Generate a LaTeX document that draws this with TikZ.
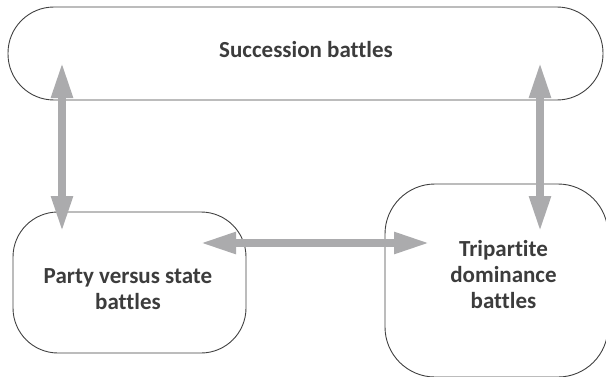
\documentclass[tikz,border=0pt]{standalone}
\usepackage{fontspec}
\setmainfont[Ligatures={NoCommon}]{Carlito}
\usetikzlibrary{arrows.meta}
\definecolor{boxline}{HTML}{404040}
\definecolor{txt}{HTML}{3C3C3C}
\definecolor{arr}{HTML}{ABABAD}
\tikzset{
  box/.style={draw=boxline, line width=0.9pt, rectangle, inner sep=0pt},
  lbl/.style={font=\fontsize{23}{26}\selectfont\bfseries, text=txt, align=center, inner sep=0pt},
  dbl/.style={draw=arr, line width=8pt, {Triangle[length=36pt,width=20pt]}-{Triangle[length=36pt,width=20pt]}}
}
\begin{document}
\begin{tikzpicture}[x=1pt,y=1pt]
\useasboundingbox (0,0) rectangle (606,376);
\clip (0,0) rectangle (606,376);
% boxes
\node[box, minimum width=595pt, minimum height=93pt, rounded corners=46pt] (top) at (305.5,322.5) {};
\node[box, minimum width=233pt, minimum height=141pt, rounded corners=45pt] (left) at (129.5,93.5) {};
\node[box, minimum width=223pt, minimum height=193pt, rounded corners=50pt] (right) at (496.5,95.5) {};
% labels
\node[lbl] (toptxt) at (306,326) {Succession battles};
\node[lbl] (lefttxt) at (128,87) {Party versus state\\battles};
\node[lbl] (righttxt) at (503.5,101) {Tripartite\\dominance\\battles};
% arrow ends
\coordinate (a1s) at (62,314);
\coordinate (a1e) at (62,144);
\coordinate (a2s) at (540,314);
\coordinate (a2e) at (540,144);
\coordinate (a3s) at (200,133);
\coordinate (a3e) at (430,133);
\draw[dbl] (a1s) -- (a1e);
\draw[dbl] (a2s) -- (a2e);
\draw[dbl] (a3s) -- (a3e);
\end{tikzpicture}
\end{document}
